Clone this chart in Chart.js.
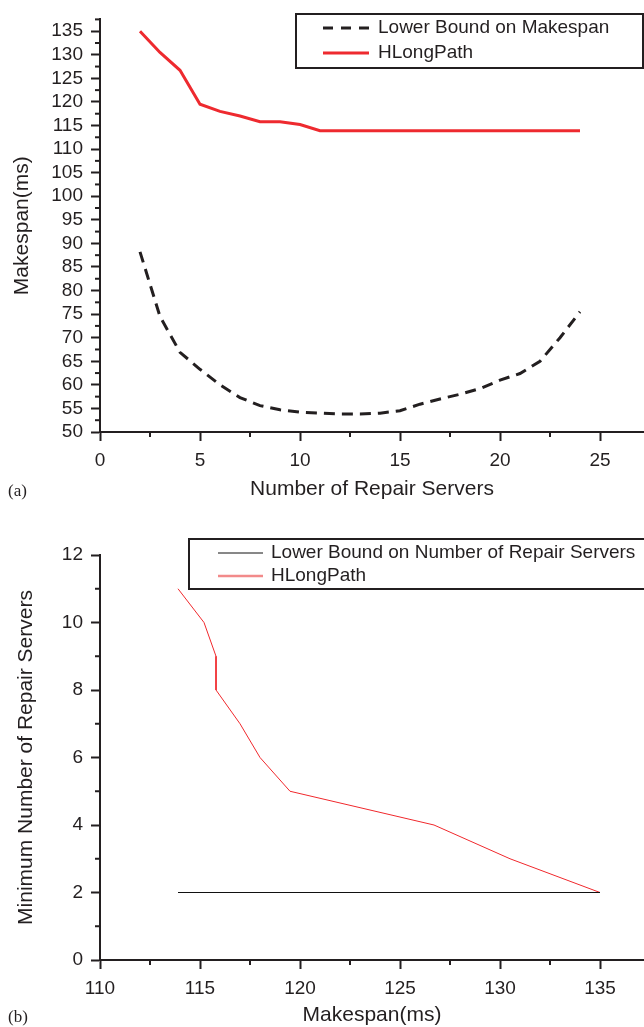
<!DOCTYPE html>
<html>
<head>
<meta charset="utf-8">
<script src="https://cdn.jsdelivr.net/npm/chart.js@4.4.1/dist/chart.umd.min.js"></script>
<style>
  body { margin: 0; background: #fff; width: 644px; height: 1027px; position: relative; overflow: hidden; }
  canvas { position: absolute; left: 0; }
  .tag { position: absolute; left: 8px; font: 17px "Liberation Serif", "DejaVu Serif", serif; color: #231f20; }
</style>
</head>
<body>
<canvas id="chartA" width="644" height="515" style="top:0"></canvas>
<canvas id="chartB" width="644" height="507" style="top:520px"></canvas>
<div class="tag" style="top:481px">(a)</div>
<div class="tag" style="top:1007px">(b)</div>
<script>
// (a) makespan vs number of repair servers
const servers = [2, 3, 4, 5, 6, 7, 8, 9, 10, 11, 12, 13, 14, 15, 16, 17, 18, 19, 20, 21, 22, 23, 24];
const lowerBoundMakespan = [88.2, 74.5, 66.9, 63.3, 60.0, 57.3, 55.6, 54.7, 54.2, 54.0, 53.8, 53.8,
  54.0, 54.5, 55.9, 57.0, 58.0, 59.2, 61.0, 62.4, 65.0, 70.0, 75.5];
const hLongPathMakespan = [135, 130.5, 126.7, 119.5, 118.0, 117.0, 115.8, 115.8, 115.2, 113.9, 113.9, 113.9,
  113.9, 113.9, 113.9, 113.9, 113.9, 113.9, 113.9, 113.9, 113.9, 113.9, 113.9];
const xTicksA = [0, 5, 10, 15, 20, 25];
const yTicksA = [50, 55, 60, 65, 70, 75, 80, 85, 90, 95, 100, 105, 110, 115, 120, 125, 130, 135];

// (b) minimum number of repair servers vs makespan
const hLongPathSpan = [113.9, 115.2, 115.8, 115.8, 117.0, 118.0, 119.5, 126.7, 130.5, 135.0];
const hLongPathServers = [11, 10, 9, 8, 7, 6, 5, 4, 3, 2];
const lowerBoundSpan = [113.9, 135.0];
const lowerBoundServers = [2, 2];
const xTicksB = [110, 115, 120, 125, 130, 135];
const yTicksB = [0, 2, 4, 6, 8, 10, 12];

const ink = '#231f20';
const family = '"Liberation Sans", Arial, sans-serif';

function pts(xs, ys) {
  return xs.map((x, i) => ({ x: x, y: ys[i] }));
}

// minor ticks half way between the major ones
const minorTicks = {
  id: 'minorTicks',
  afterDraw(chart) {
    const ctx = chart.ctx;
    const area = chart.chartArea;
    ctx.save();
    ctx.strokeStyle = ink;
    ctx.lineWidth = 2;
    const xs = chart.scales.x, ys = chart.scales.y;
    const xt = xs.ticks, yt = ys.ticks;
    for (let i = 0; i < xt.length; i++) {
      const half = xt[1].value - xt[0].value;
      const v = xt[i].value + half / 2;
      if (v >= xs.max) break;
      const px = xs.getPixelForValue(v);
      ctx.beginPath(); ctx.moveTo(px, area.bottom); ctx.lineTo(px, area.bottom + 5); ctx.stroke();
    }
    for (let i = 0; i < yt.length; i++) {
      const half = yt[1].value - yt[0].value;
      const v = yt[i].value + half / 2;
      if (v > ys.max) break;
      const py = ys.getPixelForValue(v);
      ctx.beginPath(); ctx.moveTo(area.left - 5, py); ctx.lineTo(area.left, py); ctx.stroke();
    }
    ctx.restore();
  }
};

// framed legend inside the plot
const boxLegend = {
  id: 'boxLegend',
  afterDraw(chart, args, o) {
    const ctx = chart.ctx;
    ctx.save();
    ctx.lineWidth = 2;
    ctx.strokeStyle = ink;
    ctx.setLineDash([]);
    ctx.strokeRect(o.x, o.y, o.w, o.h);
    ctx.font = '19px ' + family;
    ctx.textBaseline = 'middle';
    chart.data.datasets.forEach((ds, i) => {
      const y = o.y + o.row0 + i * o.gap;
      ctx.beginPath();
      ctx.setLineDash(o.dash[i]);
      ctx.strokeStyle = o.colors[i];
      ctx.lineWidth = o.widths[i];
      ctx.moveTo(o.lx0, y); ctx.lineTo(o.lx1, y);
      ctx.stroke();
      ctx.setLineDash([]);
      ctx.fillStyle = ink;
      ctx.fillText(ds.label, o.tx, y);
    });
    ctx.restore();
  }
};

function axis(min, max, ticks, fitSize, title, titlePad, horizontal) {
  return {
    type: 'linear',
    min: min,
    max: max,
    afterBuildTicks: s => { s.ticks = ticks.map(v => ({ value: v })); },
    afterFit: s => { if (horizontal) s.height = fitSize; else s.width = fitSize; },
    ticks: { color: ink, font: { family: family, size: 19 }, padding: horizontal ? 8 : 8, maxRotation: 0, autoSkip: false },
    grid: { drawOnChartArea: false, drawTicks: true, tickLength: 9, tickColor: ink, tickWidth: 2 },
    border: { display: true, color: ink, width: 2 },
    title: { display: true, text: title, color: ink, font: { family: family, size: 21 }, padding: titlePad }
  };
}

new Chart(document.getElementById('chartA'), {
  type: 'line',
  data: {
    datasets: [
      { label: 'Lower Bound on Makespan', data: pts(servers, lowerBoundMakespan), borderColor: ink,
        borderWidth: 3, borderDash: [11, 7], pointRadius: 0, tension: 0 },
      { label: 'HLongPath', data: pts(servers, hLongPathMakespan), borderColor: '#ee2a2f',
        borderWidth: 3, pointRadius: 0, tension: 0 }
    ]
  },
  options: {
    responsive: false,
    animation: false,
    layout: { padding: { top: 8, left: 0, right: 0, bottom: 0 } },
    plugins: {
      legend: { display: false },
      tooltip: { enabled: false },
      boxLegend: { x: 296, y: 14, w: 347, h: 54, row0: 14, gap: 25, lx0: 323, lx1: 369, tx: 378,
        dash: [[10, 8], []], colors: [ink, '#ee2a2f'], widths: [3, 3] }
    },
    scales: {
      x: axis(0, 27.2, xTicksA, 83, 'Number of Repair Servers', { bottom: 13 }, true),
      y: axis(50, 137.5, yTicksA, 100, 'Makespan(ms)', { top: 10 }, false)
    }
  },
  plugins: [minorTicks, boxLegend]
});

new Chart(document.getElementById('chartB'), {
  type: 'line',
  data: {
    datasets: [
      { label: 'Lower Bound on Number of Repair Servers', data: pts(lowerBoundSpan, lowerBoundServers),
        borderColor: '#111', borderWidth: 1, pointRadius: 0, tension: 0 },
      { label: 'HLongPath', data: pts(hLongPathSpan, hLongPathServers), borderColor: '#f0282c',
        borderWidth: 1, pointRadius: 0, tension: 0 }
    ]
  },
  options: {
    responsive: false,
    animation: false,
    layout: { padding: { top: 35, left: 0, right: 0, bottom: 0 } },
    plugins: {
      legend: { display: false },
      tooltip: { enabled: false },
      boxLegend: { x: 189, y: 19, w: 470, h: 50, row0: 14, gap: 23, lx0: 218, lx1: 263, tx: 271,
        dash: [[], []], colors: ['#111', '#f28a8a'], widths: [1, 2.5] }
    },
    scales: {
      x: axis(110, 137.2, xTicksB, 67, 'Makespan(ms)', { bottom: -1 }, true),
      y: axis(0, 12, yTicksB, 100, 'Minimum Number of Repair Servers', { top: 14 }, false)
    }
  },
  plugins: [minorTicks, boxLegend]
});
</script>
</body>
</html>
